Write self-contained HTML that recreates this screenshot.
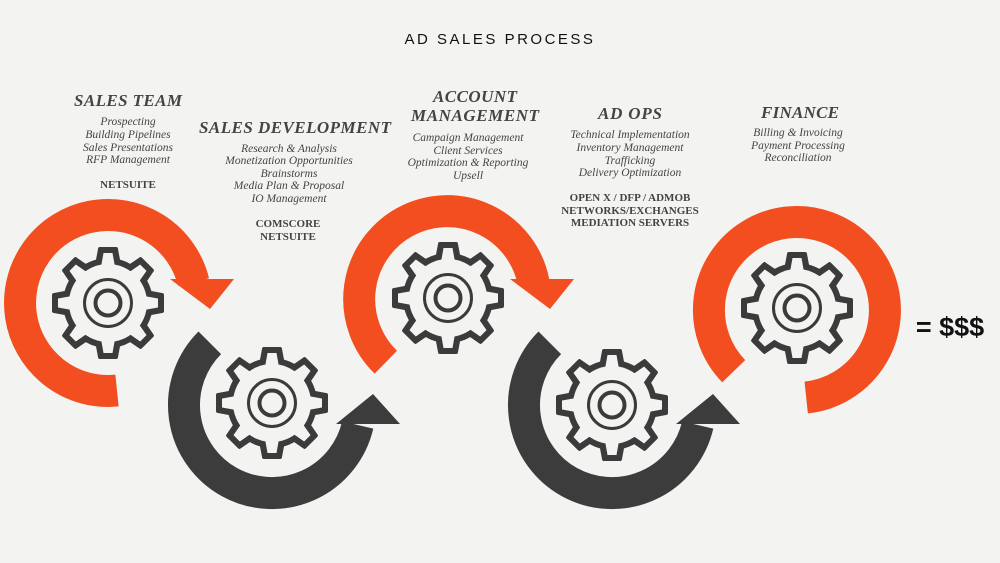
<!DOCTYPE html>
<html><head><meta charset="utf-8"><style>
html,body{margin:0;padding:0;background:#f3f3f1}
svg{display:block}
.h{font-family:"Liberation Serif",serif;font-weight:bold;font-style:italic;font-size:17px;fill:#444;text-anchor:middle}
.i{font-family:"Liberation Serif",serif;font-style:italic;font-size:11.5px;fill:#444;text-anchor:middle}
.b{font-family:"Liberation Serif",serif;font-weight:bold;font-size:11px;fill:#444;text-anchor:middle}
</style></head><body>
<svg width="1000" height="563" viewBox="0 0 1000 563" xmlns="http://www.w3.org/2000/svg">
<defs>
<g id="gear">
 <g fill="#3b3b3b">
  <circle r="45"/>
  <g id="t"><path d="M-13,-38 L-10,-54 Q-10,-56 -8,-56 L8,-56 Q10,-56 10,-54 L13,-38 Z"/></g>
  <use href="#t" transform="rotate(45)"/><use href="#t" transform="rotate(90)"/><use href="#t" transform="rotate(135)"/>
  <use href="#t" transform="rotate(180)"/><use href="#t" transform="rotate(225)"/><use href="#t" transform="rotate(270)"/><use href="#t" transform="rotate(315)"/>
 </g>
 <g fill="#f3f3f1">
  <circle r="39"/>
  <g id="u"><path d="M-7,-36 L-4.5,-50 L4.5,-50 L7,-36 Z"/></g>
  <use href="#u" transform="rotate(45)"/><use href="#u" transform="rotate(90)"/><use href="#u" transform="rotate(135)"/>
  <use href="#u" transform="rotate(180)"/><use href="#u" transform="rotate(225)"/><use href="#u" transform="rotate(270)"/><use href="#u" transform="rotate(315)"/>
 </g>
 <circle r="23.5" fill="none" stroke="#3b3b3b" stroke-width="3"/>
 <circle r="12.5" fill="none" stroke="#3b3b3b" stroke-width="4"/>
</g>
</defs>

<text x="500" y="44" text-anchor="middle" font-family="Liberation Sans, sans-serif" font-size="15" letter-spacing="2.5" fill="#111">AD SALES PROCESS</text>

<g fill="none" stroke-width="32">
 <path d="M117,390.5 A88 88 0 1 1 193.5,282" stroke="#f24e1f"/>
 <path d="M209.8,342.8 A88 88 0 1 0 357.7,425" stroke="#3c3c3c"/>
 <path d="M385.8,362.2 A88 88 0 1 1 533.5,282" stroke="#f24e1f"/>
 <path d="M549.8,342.8 A88 88 0 1 0 697.7,425" stroke="#3c3c3c"/>
 <path d="M733.7,371.2 A88 88 0 1 1 806.2,397.5" stroke="#f24e1f"/>
</g>
<polygon points="170,279 234,279 210,309" fill="#f24e1f"/>
<polygon points="510,279 574,279 550,309" fill="#f24e1f"/>
<polygon points="336,424 400,424 373,394" fill="#3c3c3c"/>
<polygon points="676,424 740,424 713,394" fill="#3c3c3c"/>

<use href="#gear" x="108" y="303"/>
<use href="#gear" x="272" y="403"/>
<use href="#gear" x="448" y="298"/>
<use href="#gear" x="612" y="405"/>
<use href="#gear" x="797" y="308"/>

<text x="950" y="336" text-anchor="middle" font-family="Liberation Sans, sans-serif" font-weight="bold" font-size="27" fill="#111">= $$$</text>

<text class="h" x="128" y="106" textLength="108">SALES TEAM</text>
<text class="i" x="128" y="125">Prospecting</text>
<text class="i" x="128" y="138">Building Pipelines</text>
<text class="i" x="128" y="151">Sales Presentations</text>
<text class="i" x="128" y="163">RFP Management</text>
<text class="b" x="128" y="188">NETSUITE</text>

<text class="h" x="295" y="133" textLength="192">SALES DEVELOPMENT</text>
<text class="i" x="289" y="152">Research &amp; Analysis</text>
<text class="i" x="289" y="164">Monetization Opportunities</text>
<text class="i" x="289" y="177">Brainstorms</text>
<text class="i" x="289" y="189">Media Plan &amp; Proposal</text>
<text class="i" x="289" y="202">IO Management</text>
<text class="b" x="288" y="227">COMSCORE</text>
<text class="b" x="288" y="240">NETSUITE</text>

<text class="h" x="475" y="102" textLength="84">ACCOUNT</text>
<text class="h" x="475" y="121" textLength="128">MANAGEMENT</text>
<text class="i" x="468" y="141">Campaign Management</text>
<text class="i" x="468" y="154">Client Services</text>
<text class="i" x="468" y="166">Optimization &amp; Reporting</text>
<text class="i" x="468" y="179">Upsell</text>

<text class="h" x="630" y="119" textLength="64">AD OPS</text>
<text class="i" x="630" y="138">Technical Implementation</text>
<text class="i" x="630" y="151">Inventory Management</text>
<text class="i" x="630" y="164">Trafficking</text>
<text class="i" x="630" y="176">Delivery Optimization</text>
<text class="b" x="630" y="201">OPEN X / DFP / ADMOB</text>
<text class="b" x="630" y="214">NETWORKS/EXCHANGES</text>
<text class="b" x="630" y="226">MEDIATION SERVERS</text>

<text class="h" x="800" y="118" textLength="78">FINANCE</text>
<text class="i" x="798" y="136">Billing &amp; Invoicing</text>
<text class="i" x="798" y="149">Payment Processing</text>
<text class="i" x="798" y="161">Reconciliation</text>
</svg>
</body></html>
